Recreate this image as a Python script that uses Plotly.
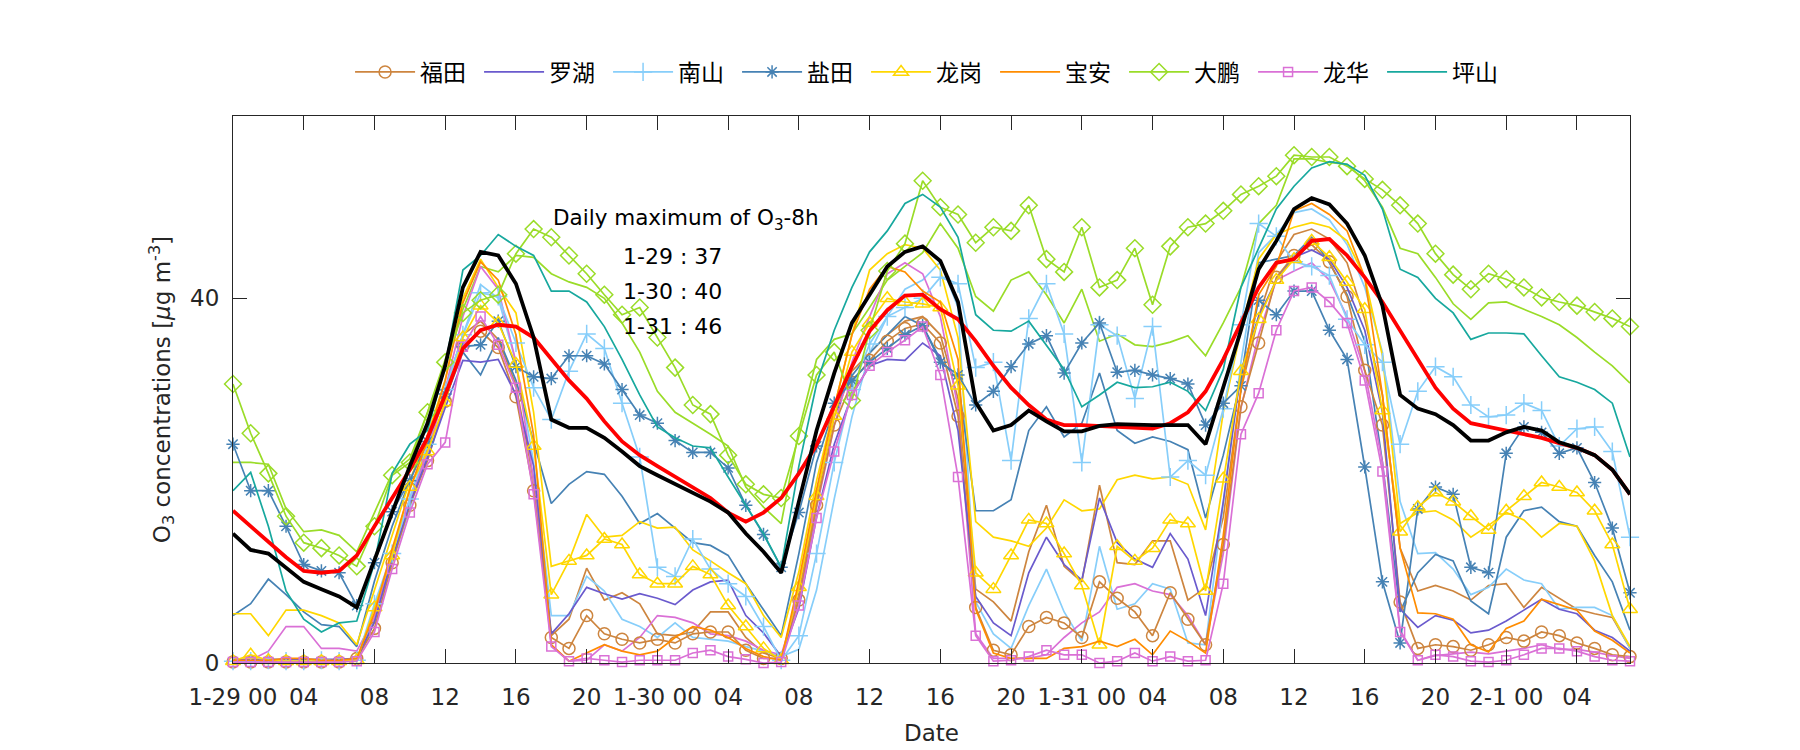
import plotly.graph_objects as go

hours = list(range(80))
tick_vals = list(range(0, 80, 4))
tick_text = ["1-29 00", "04", "08", "12", "16", "20",
             "1-30 00", "04", "08", "12", "16", "20",
             "1-31 00", "04", "08", "12", "16", "20",
             "2-1 00", "04"]
y_ticks = [0, 40]

# ---- station series (marked = legend series, _b = unmarked companion line) ----
futian = [0.1, 0.1, 0.1, 0.1, 0.1, 0.1, 0.1, 0.5, 3.8, 11.0, 17.3, 22.2, 28.7, 34.8, 36.4, 34.6, 29.2, 18.9, 2.8, 1.6,
          5.2, 3.2, 2.6, 2.2, 2.6, 2.2, 3.2, 3.4, 3.4, 1.4, 0.5, 0.5, 6.9, 17.3, 26.1, 30.8, 33.2, 35.3, 36.7, 37.2,
          35.1, 27.1, 6.1, 1.4, 0.9, 4.0, 5.0, 4.4, 2.8, 8.9, 7.1, 5.6, 3.0, 7.7, 4.8, 2.0, 13.0, 28.1, 35.1, 42.3,
          44.7, 45.9, 44.0, 40.2, 32.1, 26.1, 6.7, 1.6, 2.0, 1.8, 1.4, 2.0, 2.8, 2.4, 3.4, 3.0, 2.2, 1.6, 0.9, 0.7]
futian_b = [0.2, 0.2, 0.2, 0.2, 0.2, 0.2, 0.2, 0.3, 4.5, 12.0, 18.0, 23.5, 30.0, 36.0, 37.5, 35.5, 30.5, 20.0, 3.0, 4.8,
            10.4, 6.9, 7.7, 6.5, 3.2, 3.0, 3.4, 5.6, 5.6, 2.8, 1.1, 0.5, 7.5, 18.0, 27.0, 32.0, 34.0, 36.0, 37.5, 38.0,
            36.0, 29.0, 8.1, 6.7, 4.6, 12.2, 17.3, 10.6, 8.9, 19.5, 11.0, 10.8, 13.4, 13.4, 6.9, 8.3, 16.0, 30.0, 38.0, 44.0,
            47.0, 47.6, 46.5, 43.9, 37.7, 29.4, 12.6, 7.9, 8.5, 7.9, 6.9, 8.5, 8.7, 6.1, 8.3, 7.1, 5.9, 5.4, 5.0, 1.6]
luohu = [0.4, 0.4, 0.4, 0.4, 0.4, 0.4, 0.4, 0.5, 4.5, 11.5, 17.5, 22.5, 28.0, 33.2, 33.0, 33.3, 29.4, 21.6, 3.2, 5.4,
         8.3, 7.6, 7.0, 7.6, 7.1, 6.4, 8.0, 8.9, 9.1, 5.2, 3.3, 0.7, 6.0, 16.0, 24.0, 29.4, 32.6, 33.3, 33.2, 35.1,
         33.7, 25.5, 7.3, 4.4, 3.0, 9.9, 13.8, 10.8, 9.1, 18.1, 13.2, 11.4, 10.5, 14.2, 11.4, 5.2, 17.7, 32.0, 38.0, 42.0,
         44.5, 45.3, 44.3, 41.2, 36.5, 27.5, 5.9, 3.9, 5.2, 4.7, 3.3, 3.6, 4.6, 5.8, 7.0, 5.9, 5.4, 3.6, 2.8, 1.3]
nanshan = [0.2, 0.2, 0.3, 0.2, 0.2, 0.3, 0.2, 0.3, 6.5, 12.0, 18.0, 24.0, 30.0, 36.0, 40.6, 40.2, 35.1, 30.2, 26.7, 32.0,
           36.1, 34.5, 28.5, 22.6, 10.5, 9.5, 13.6, 10.3, 8.7, 7.3, 4.0, 0.3, 3.0, 12.0, 22.0, 30.0, 35.0, 38.0, 39.0, 40.0,
           42.3, 41.6, 32.4, 33.0, 22.2, 37.8, 41.6, 36.1, 22.0, 37.1, 35.9, 29.0, 36.9, 20.4, 22.2, 20.6, 27.9, 37.1, 48.2, 46.8,
           44.0, 43.5, 42.5, 37.7, 34.9, 33.0, 24.0, 29.8, 32.5, 31.4, 28.3, 27.0, 27.2, 28.5, 27.7, 23.8, 25.7, 25.9, 23.2, 13.8]
nanshan_b = [0.3, 0.3, 0.3, 0.3, 0.3, 0.3, 0.3, 0.3, 5.0, 11.0, 17.0, 23.0, 30.0, 36.0, 41.5, 40.0, 33.0, 22.0, 5.2, 5.2,
             9.5, 7.9, 4.8, 4.0, 2.8, 4.4, 2.8, 2.6, 2.4, 1.8, 1.3, 0.7, 1.5, 8.0, 18.0, 27.0, 34.0, 38.0, 41.0, 42.0,
             44.0, 39.0, 6.7, 3.2, 1.6, 6.3, 10.3, 5.6, 2.4, 12.8, 5.9, 6.5, 8.7, 8.1, 2.2, 2.0, 17.7, 33.0, 45.0, 47.0,
             49.4, 49.8, 48.6, 45.9, 41.2, 34.1, 17.7, 12.0, 12.1, 10.3, 7.5, 8.3, 10.3, 9.1, 8.7, 5.9, 6.1, 6.1, 5.2, 1.6]
yantian = [24.0, 18.9, 18.9, 15.0, 10.8, 10.1, 9.9, 6.3, 11.0, 16.6, 20.0, 24.3, 29.5, 34.7, 34.9, 37.5, 32.5, 31.4, 31.2, 33.7,
           33.7, 32.8, 30.0, 27.2, 26.3, 24.4, 23.1, 23.1, 21.4, 17.3, 14.1, 10.5, 16.5, 23.8, 28.5, 31.0, 33.0, 34.5, 36.0, 37.0,
           33.0, 31.6, 28.3, 29.8, 32.5, 35.0, 35.9, 31.8, 35.1, 37.3, 31.9, 32.1, 31.6, 31.2, 30.6, 26.1, 28.5, 30.4, 39.8, 38.2,
           40.8, 40.8, 36.5, 33.3, 21.5, 8.9, 2.2, 16.9, 19.3, 18.5, 10.5, 9.9, 23.0, 25.9, 25.3, 23.0, 23.6, 19.8, 14.8, 7.7]
yantian_b = [5.2, 6.5, 9.2, 7.5, 5.6, 4.2, 4.0, 1.8, 9.0, 15.0, 20.0, 24.5, 29.0, 34.1, 31.6, 35.7, 31.0, 24.3, 17.5, 19.6,
             21.0, 20.7, 18.3, 15.3, 16.4, 14.8, 13.2, 12.9, 11.8, 8.7, 5.9, 3.0, 12.0, 22.0, 28.0, 31.5, 34.0, 36.0, 38.0, 37.0,
             33.3, 31.0, 16.7, 16.7, 17.9, 25.5, 28.1, 24.8, 26.3, 31.8, 25.5, 24.1, 24.8, 24.3, 23.4, 15.9, 22.8, 31.0, 43.9, 44.3,
             44.7, 46.7, 43.9, 40.4, 35.3, 22.0, 5.6, 9.9, 11.9, 11.2, 6.8, 5.4, 13.8, 16.7, 17.1, 15.5, 15.0, 11.8, 8.9, 3.6]
longgang = [0.2, 0.9, 0.3, 0.2, 0.2, 0.2, 0.2, 0.3, 6.1, 11.8, 19.3, 23.2, 28.6, 35.7, 39.2, 37.3, 32.8, 23.8, 7.5, 11.2,
            11.8, 13.6, 13.0, 9.7, 8.7, 8.7, 10.6, 9.7, 6.3, 4.0, 1.6, 0.3, 8.3, 18.3, 27.1, 34.1, 37.3, 40.0, 39.6, 39.4,
            39.0, 30.4, 9.9, 8.1, 11.8, 15.7, 15.3, 12.0, 8.5, 2.0, 12.8, 11.2, 12.6, 15.7, 15.3, 7.9, 20.2, 32.0, 37.7, 42.0,
            44.3, 46.3, 44.5, 41.8, 38.8, 27.7, 14.4, 17.1, 18.7, 17.7, 16.1, 14.6, 16.7, 18.3, 19.8, 19.3, 18.7, 16.7, 13.0, 5.9]
longgang_b = [5.4, 5.4, 3.0, 5.8, 5.8, 5.2, 4.4, 2.0, 8.0, 14.0, 20.0, 25.0, 31.0, 40.0, 44.3, 41.2, 38.4, 27.5, 10.6, 11.2,
              16.3, 13.8, 14.0, 15.5, 14.8, 14.9, 12.4, 11.2, 9.9, 8.7, 5.2, 2.8, 10.0, 20.0, 28.0, 36.0, 43.1, 44.9, 45.9, 45.5,
              43.1, 35.7, 15.5, 13.8, 13.4, 12.8, 14.8, 17.9, 16.7, 16.9, 20.1, 20.6, 20.2, 20.4, 19.6, 14.6, 27.5, 36.5, 44.3, 47.0,
              47.8, 48.3, 47.8, 46.3, 42.3, 33.7, 15.3, 16.5, 16.7, 15.7, 13.8, 15.1, 16.5, 15.7, 13.8, 15.3, 15.0, 11.2, 5.2, 1.8]
baoan = [0.3, 0.3, 0.3, 0.5, 0.5, 0.3, 0.3, 0.5, 5.5, 12.5, 19.0, 24.5, 31.0, 39.5, 44.0, 42.0, 36.0, 25.0, 2.0, 0.2,
         1.1, 2.0, 1.3, 0.9, 1.3, 2.8, 4.0, 3.6, 2.8, 1.6, 0.7, 0.3, 9.0, 19.0, 28.0, 36.0, 41.0, 43.5, 42.9, 40.8,
         39.6, 33.3, 5.9, 1.1, 0.5, 0.5, 0.5, 1.6, 1.8, 2.4, 1.8, 2.6, 0.9, 3.5, 2.4, 1.1, 14.0, 30.0, 40.4, 43.5,
         49.6, 50.4, 49.2, 47.4, 42.3, 29.4, 12.6, 5.5, 5.4, 4.8, 2.0, 1.2, 3.8, 4.6, 7.0, 6.4, 5.8, 3.5, 2.5, 1.1]
dapeng = [30.6, 25.2, 20.8, 16.1, 13.2, 12.6, 11.8, 10.6, 15.0, 20.6, 22.0, 27.5, 33.0, 38.4, 39.8, 40.4, 44.9, 47.6, 46.7, 44.7,
          42.7, 40.4, 38.2, 39.0, 35.7, 32.4, 28.3, 27.3, 22.8, 19.6, 18.5, 18.1, 24.9, 31.6, 34.1, 28.8, 36.5, 43.0, 46.0, 52.9,
          50.0, 49.2, 46.1, 47.8, 47.4, 50.2, 44.3, 42.9, 47.8, 41.2, 42.0, 45.5, 39.3, 45.7, 47.8, 48.2, 49.6, 51.4, 52.3, 53.4,
          55.7, 55.5, 55.5, 54.5, 53.1, 51.9, 50.2, 48.2, 44.9, 42.6, 41.0, 42.7, 42.1, 41.2, 40.1, 39.6, 39.2, 38.5, 37.8, 36.9]
dapeng_b = [22.0, 22.0, 21.8, 16.9, 14.4, 14.6, 14.0, 12.2, 16.5, 20.8, 22.4, 27.5, 33.3, 38.8, 43.5, 42.9, 44.7, 44.5, 42.7, 41.8,
            41.2, 40.0, 37.3, 34.1, 29.8, 27.5, 26.3, 25.1, 23.8, 19.3, 17.1, 15.3, 25.5, 33.3, 35.5, 36.1, 39.0, 42.0, 43.5, 45.0,
            48.2, 45.5, 40.2, 38.6, 42.0, 42.9, 40.4, 37.3, 41.0, 35.3, 36.1, 34.9, 34.7, 35.2, 35.9, 33.7, 37.3, 41.2, 48.2, 50.2,
            55.3, 55.3, 54.9, 54.7, 52.9, 50.0, 45.5, 44.9, 42.3, 39.4, 37.7, 39.5, 39.6, 38.8, 38.0, 37.1, 35.7, 34.1, 32.6, 30.7]
longhua = [0.1, 0.1, 0.1, 0.1, 0.1, 0.1, 0.1, 0.2, 3.4, 10.3, 16.5, 21.8, 24.2, 34.7, 38.0, 34.9, 30.2, 18.5, 1.8, 0.2,
           0.5, 0.3, 0.1, 0.3, 0.3, 0.3, 1.1, 1.4, 0.7, 0.4, 0.0, 0.1, 6.3, 15.9, 23.2, 29.4, 32.6, 34.1, 35.4, 36.9,
           31.6, 20.4, 3.0, 0.2, 0.3, 0.7, 1.4, 0.9, 0.9, 0.0, 0.2, 1.1, 0.2, 0.7, 0.2, 0.3, 8.7, 25.1, 29.6, 36.5,
           40.8, 41.2, 39.6, 37.3, 31.0, 21.0, 3.4, 0.3, 0.9, 0.7, 0.2, 0.1, 0.3, 0.9, 1.6, 1.6, 1.3, 0.7, 0.3, 0.2]
longhua_b = [0.0, 0.3, 1.3, 4.0, 4.0, 1.6, 1.6, 1.3, 5.0, 12.0, 18.0, 23.0, 30.0, 38.0, 43.5, 41.0, 33.0, 20.0, 2.0, 0.2,
             0.3, 2.0, 1.3, 2.8, 5.2, 5.0, 4.4, 3.2, 3.0, 2.4, 1.4, 0.9, 7.0, 17.0, 26.0, 33.0, 38.0, 42.7, 43.9, 42.7,
             38.0, 28.0, 3.2, 0.5, 0.5, 0.5, 0.9, 2.8, 4.4, 5.6, 8.3, 8.7, 7.9, 7.5, 5.2, 2.0, 12.0, 28.0, 36.0, 42.0,
             43.0, 43.9, 42.0, 38.0, 32.0, 22.0, 3.6, 0.3, 0.8, 1.0, 1.2, 1.0, 1.3, 1.6, 2.0, 1.5, 1.5, 1.2, 0.8, 0.5]
pingshan = [18.9, 20.9, 15.0, 7.9, 4.8, 3.4, 4.4, 4.6, 11.0, 20.8, 24.0, 25.5, 32.6, 43.1, 44.7, 47.0, 45.7, 44.7, 40.8, 40.8,
            39.6, 36.9, 33.3, 29.4, 25.9, 24.7, 23.8, 23.6, 20.4, 17.3, 14.2, 10.5, 21.6, 30.6, 36.5, 41.2, 45.1, 47.4, 50.4, 51.4,
            50.0, 46.7, 38.2, 36.5, 36.4, 37.5, 34.9, 32.2, 28.1, 29.4, 30.8, 30.2, 30.3, 30.8, 29.8, 27.7, 32.2, 41.2, 45.5, 49.8,
            52.3, 54.3, 55.0, 54.7, 53.5, 49.8, 43.2, 42.3, 40.0, 38.4, 35.5, 36.2, 36.2, 36.1, 33.7, 31.4, 30.8, 30.0, 28.5, 22.6]

# ---- summary lines (thick, not in legend) ----
black_line = [14.2, 12.4, 12.0, 10.4, 8.9, 8.1, 7.3, 6.1, 11.4, 16.5, 21.6, 26.3, 32.6, 41.2, 45.1, 44.7, 41.6, 35.7, 26.7, 25.8,
              25.8, 24.7, 23.2, 21.6, 20.6, 19.6, 18.7, 17.7, 16.5, 14.2, 12.2, 9.9, 17.7, 25.5, 31.8, 37.3, 40.4, 43.5, 45.1, 45.7,
              44.1, 39.6, 28.6, 25.5, 26.1, 27.7, 26.5, 25.4, 25.4, 26.0, 26.2, 26.1, 26.1, 26.1, 26.1, 24.0, 30.2, 36.5, 43.2, 46.3,
              49.8, 51.0, 50.3, 48.2, 44.7, 39.2, 29.4, 27.9, 27.3, 26.1, 24.4, 24.4, 25.3, 25.9, 25.5, 24.2, 23.6, 22.8, 21.2, 18.5]
red_line = [16.7, 15.0, 13.2, 11.6, 10.1, 9.9, 10.1, 11.8, 15.0, 18.1, 21.2, 24.7, 29.4, 34.5, 36.5, 37.1, 36.9, 35.7, 33.3, 31.0,
            29.0, 26.5, 24.3, 22.8, 21.6, 20.4, 19.3, 18.1, 16.5, 15.5, 16.5, 18.1, 20.8, 23.9, 28.2, 32.5, 36.4, 38.7, 40.3, 40.4,
            38.8, 37.7, 35.3, 32.6, 30.2, 28.3, 26.7, 26.1, 26.1, 26.0, 26.0, 25.9, 25.7, 26.3, 27.5, 29.8, 33.3, 37.3, 41.2, 43.9,
            44.3, 46.3, 46.5, 44.7, 42.3, 39.6, 36.5, 33.3, 30.2, 27.9, 26.3, 25.9, 25.5, 25.1, 24.7, 24.1, 23.6, 22.8, 21.2, 18.5]

station_names = ["福田", "罗湖", "南山", "盐田", "龙岗", "宝安", "大鹏", "龙华", "坪山"]
station_main = [futian, luohu, nanshan, yantian, longgang, baoan, dapeng, longhua, pingshan]
station_extra = [futian_b, None, nanshan_b, yantian_b, longgang_b, None, dapeng_b, longhua_b, None]
station_colors = ["#CD853F", "#6A5ACD", "#87CEFA", "#4682B4", "#FFD700",
                  "#FF8C00", "#9ADC28", "#DA70D6", "#17A89E"]
station_symbols = ["circle-open", None, "cross-thin-open", "asterisk-open", "triangle-up-open",
                   None, "diamond-open", "square-open", None]
station_msize = [12, 0, 13, 11, 13, 0, 13, 9, 0]

annot_lines = ["1-29 : 37", "1-30 : 40", "1-31 : 46"]
annot_y = [44.6, 40.7, 36.9]

AX = "#262626"
FONT = "DejaVu Sans, sans-serif"

fig = go.Figure()

# unmarked companion lines
for name, extra, col in zip(station_names, station_extra, station_colors):
    if extra is None:
        continue
    fig.add_trace(go.Scatter(x=hours[:len(extra)], y=extra, mode="lines", name=name,
                             line=dict(color=col, width=1.7), showlegend=False,
                             hoverinfo="skip", cliponaxis=False))

# marked (legend) lines
for name, vals, col, sym, ms in zip(station_names, station_main, station_colors,
                                    station_symbols, station_msize):
    if sym is None:
        fig.add_trace(go.Scatter(x=hours[:len(vals)], y=vals, mode="lines", name=name,
                                 line=dict(color=col, width=1.7), cliponaxis=False))
    else:
        fig.add_trace(go.Scatter(x=hours[:len(vals)], y=vals, mode="lines+markers", name=name,
                                 line=dict(color=col, width=1.7),
                                 marker=dict(symbol=sym, size=ms, color=col,
                                             line=dict(color=col, width=1.5)),
                                 cliponaxis=False))

fig.add_trace(go.Scatter(x=hours[:len(red_line)], y=red_line, mode="lines",
                         line=dict(color="#FF0000", width=3.8), showlegend=False))
fig.add_trace(go.Scatter(x=hours[:len(black_line)], y=black_line, mode="lines",
                         line=dict(color="#000000", width=3.8), showlegend=False))

annotations = [dict(x=18.0, y=48.7, xref="x", yref="y", xanchor="left", yanchor="middle",
                    text="Daily maximum of O<sub>3</sub>-8h", showarrow=False,
                    font=dict(family=FONT, size=21.5, color="#000000"))]
for t, yy in zip(annot_lines, annot_y):
    annotations.append(dict(x=21.95, y=yy, xref="x", yref="y", xanchor="left", yanchor="middle",
                            text=t, showarrow=False,
                            font=dict(family=FONT, size=22, color="#000000")))

fig.update_layout(
    width=1800, height=750,
    paper_bgcolor="white", plot_bgcolor="white",
    margin=dict(l=225, r=178, t=108, b=95),
    showlegend=True,
    legend=dict(orientation="h", x=0.0838, xanchor="left", y=1.0804, yanchor="middle",
                font=dict(family="Noto Sans CJK SC", size=23, color="#000000"),
                entrywidth=54, itemwidth=60, bgcolor="rgba(0,0,0,0)", traceorder="normal"),
    annotations=annotations,
    xaxis=dict(range=[0, 79], tickmode="array", tickvals=tick_vals, ticktext=tick_text,
               ticks="inside", ticklen=14, tickwidth=1, tickcolor=AX,
               showline=True, linecolor=AX, linewidth=1, mirror="ticks",
               showgrid=False, zeroline=False, ticklabelstandoff=13,
               tickfont=dict(family=FONT, size=23, color=AX),
               title=dict(text="Date", standoff=16, font=dict(family=FONT, size=23, color=AX))),
    yaxis=dict(range=[0, 60], tickmode="array", tickvals=y_ticks,
               ticks="inside", ticklen=14, tickwidth=1, tickcolor=AX,
               showline=True, linecolor=AX, linewidth=1, mirror="ticks",
               showgrid=False, zeroline=False, ticklabelstandoff=8,
               tickfont=dict(family=FONT, size=23, color=AX),
               title=dict(text="O<sub>3</sub> concentrations [<i>μ</i>g m<sup>-3</sup>]", standoff=13,
                          font=dict(family=FONT, size=23, color=AX))),
)

fig.write_html("out.html")
